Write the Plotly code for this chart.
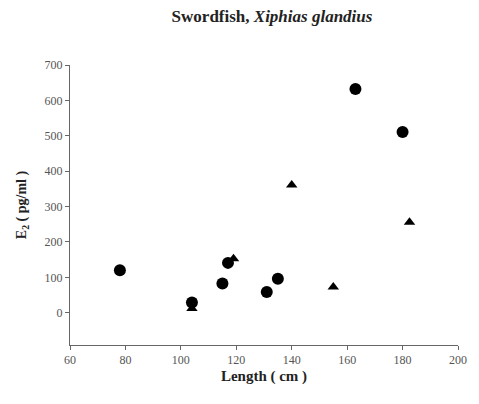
import plotly.graph_objects as go

# Data
circle_len = [78, 104, 115, 117, 131, 135, 163, 180]
circle_e2 = [120, 29, 83, 141, 59, 96, 632, 511]
tri_len = [104, 119, 140, 155, 182.5]
tri_e2 = [12, 153, 361, 73, 256]

x_ticks = [60, 80, 100, 120, 140, 160, 180, 200]
y_ticks = [0, 100, 200, 300, 400, 500, 600, 700]

serif = "Liberation Serif, Times New Roman, serif"

fig = go.Figure()
fig.add_trace(go.Scatter(x=circle_len, y=circle_e2, mode="markers",
                         marker=dict(symbol="circle", size=12, color="black"),
                         showlegend=False))
fig.add_trace(go.Scatter(x=tri_len, y=tri_e2, mode="markers",
                         marker=dict(symbol="triangle-up", size=10, color="black"),
                         showlegend=False))

fig.update_layout(
    width=479, height=404,
    margin=dict(l=70, r=12, t=65, b=59),
    paper_bgcolor="white", plot_bgcolor="white",
    font=dict(family=serif, color="#222"),
    title=dict(text="<b>Swordfish, <i>Xiphias glandius</i></b>",
               x=272 / 479, xanchor="center", y=1 - 16 / 404, yanchor="middle",
               font=dict(size=17, family=serif, color="#222")),
)
fig.update_xaxes(range=[60, 200], tickvals=x_ticks, ticks="outside", ticklen=4,
                 showline=True, linecolor="#666", linewidth=1, tickcolor="#666",
                 showgrid=False, zeroline=False,
                 tickfont=dict(size=12, family=serif, color="#555"),
                 title=dict(text="<b>Length ( cm )</b>", standoff=4,
                            font=dict(size=15, family=serif, color="#222")))
fig.update_yaxes(range=[-91, 700], tickvals=y_ticks, ticks="outside", ticklen=4,
                 showline=True, linecolor="#666", linewidth=1, tickcolor="#666",
                 showgrid=False, zeroline=False,
                 tickfont=dict(size=12, family=serif, color="#555"),
                 title=dict(text="<b>E<sub>2</sub> ( pg/ml )</b>", standoff=14,
                            font=dict(size=14, family=serif, color="#222")))

fig.write_html("out.html")
